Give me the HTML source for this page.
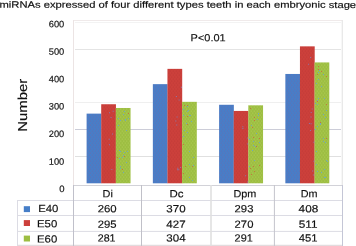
<!DOCTYPE html>
<html><head><meta charset="utf-8"><title>chart</title><style>html,body{margin:0;padding:0;background:#fff}body{width:356px;height:246px;overflow:hidden}</style></head><body>
<svg width="356" height="246" viewBox="0 0 356 246" style="display:block;will-change:transform;filter:blur(0.35px)">
<defs>
<pattern id="pb" width="3" height="4" patternUnits="userSpaceOnUse"><rect width="3" height="4" fill="#467ec8"/><circle cx="0.75" cy="1" r="0.55" fill="#a0508c" opacity="0.45"/><circle cx="2.25" cy="3" r="0.55" fill="#a0508c" opacity="0.45"/></pattern>
<pattern id="pr" width="3" height="4" patternUnits="userSpaceOnUse"><rect width="3" height="4" fill="#cc403b"/><circle cx="0.75" cy="1" r="0.55" fill="#a8302c" opacity="0.5"/><circle cx="2.25" cy="3" r="0.55" fill="#a8302c" opacity="0.5"/></pattern>
<pattern id="pg" width="3" height="4" patternUnits="userSpaceOnUse"><rect width="3" height="4" fill="#9dbe42"/><circle cx="0.75" cy="1" r="0.55" fill="#c8dc70" opacity="0.55"/><circle cx="2.25" cy="3" r="0.55" fill="#c8dc70" opacity="0.55"/></pattern>
</defs>
<rect width="356" height="246" fill="#fff"/>
<line x1="75" x2="341" y1="22.5" y2="22.5" stroke="#f3f3f3" stroke-width="1"/>
<line x1="75" x2="341" y1="49.5" y2="49.5" stroke="#e4e4e4" stroke-width="1"/>
<line x1="75" x2="341" y1="102.5" y2="102.5" stroke="#efefef" stroke-width="1"/>
<line x1="75" x2="341" y1="129.5" y2="129.5" stroke="#cccdd8" stroke-width="1"/>
<line x1="75" x2="341" y1="156.5" y2="156.5" stroke="#e0e0e0" stroke-width="1"/>
<line x1="73" x2="343" y1="20.5" y2="20.5" stroke="#f0eaea" stroke-width="1"/>
<line x1="73.5" x2="73.5" y1="20" y2="185" stroke="#ece4e4" stroke-width="1"/>
<line x1="342.3" x2="342.3" y1="20" y2="185" stroke="#e8e8e8" stroke-width="1.3"/>
<rect x="86.60" y="113.62" width="14.75" height="69.68" fill="url(#pb)"/>
<rect x="101.20" y="104.24" width="14.75" height="79.06" fill="url(#pr)"/>
<rect x="115.80" y="107.99" width="14.75" height="75.31" fill="url(#pg)"/>
<rect x="152.85" y="84.14" width="14.75" height="99.16" fill="url(#pb)"/>
<rect x="167.45" y="68.86" width="14.75" height="114.44" fill="url(#pr)"/>
<rect x="182.05" y="101.83" width="14.75" height="81.47" fill="url(#pg)"/>
<rect x="219.10" y="104.78" width="14.75" height="78.52" fill="url(#pb)"/>
<rect x="233.70" y="110.94" width="14.75" height="72.36" fill="url(#pr)"/>
<rect x="248.30" y="105.31" width="14.75" height="77.99" fill="url(#pg)"/>
<rect x="285.35" y="73.96" width="14.75" height="109.34" fill="url(#pb)"/>
<rect x="299.95" y="46.35" width="14.75" height="136.95" fill="url(#pr)"/>
<rect x="314.55" y="62.43" width="14.75" height="120.87" fill="url(#pg)"/>
<path d="M110.6 116.9h1v1h-1zM112.7 110.8h1v1h-1zM112.0 133.4h1v1h-1zM108.9 144.3h1v1h-1zM108.7 138.7h1v1h-1zM109.0 112.2h1v1h-1zM111.3 169.0h1v1h-1zM177.3 167.8h1v1h-1zM175.3 120.4h1v1h-1zM178.3 169.2h1v1h-1zM180.1 167.0h1v1h-1zM176.6 116.6h1v1h-1zM177.1 169.3h1v1h-1zM181.0 86.8h1v1h-1zM175.9 95.9h1v1h-1zM176.3 124.4h1v1h-1zM178.6 99.4h1v1h-1zM247.2 143.4h1v1h-1zM247.1 181.5h1v1h-1zM247.2 137.6h1v1h-1zM242.4 127.9h1v1h-1zM242.3 126.3h1v1h-1zM245.1 175.3h1v1h-1zM310.6 123.2h1v1h-1zM312.2 170.5h1v1h-1zM310.1 130.0h1v1h-1zM310.5 116.5h1v1h-1zM311.8 108.4h1v1h-1zM310.7 111.9h1v1h-1zM313.4 141.7h1v1h-1zM312.9 174.5h1v1h-1zM308.9 122.9h1v1h-1zM313.4 160.7h1v1h-1zM308.1 63.8h1v1h-1zM310.1 57.1h1v1h-1z" fill="#7a86c8" opacity="0.8"/>
<path d="M118 125h1v1h-1zM127 151h1v1h-1zM120 120h1v1h-1zM120 168h1v1h-1zM123 155h1v1h-1zM123 114h1v1h-1zM119 158h1v1h-1zM120 151h1v1h-1zM120 166h1v1h-1zM119 150h1v1h-1zM126 162h1v1h-1zM128 118h1v1h-1zM125 120h1v1h-1zM123 172h1v1h-1zM124 152h1v1h-1zM122 157h1v1h-1zM126 130h1v1h-1zM124 111h1v1h-1zM118 118h1v1h-1zM125 119h1v1h-1zM183 136h1v1h-1zM189 177h1v1h-1zM189 151h1v1h-1zM193 165h1v1h-1zM187 111h1v1h-1zM183 109h1v1h-1zM184 130h1v1h-1zM183 115h1v1h-1zM190 115h1v1h-1zM187 132h1v1h-1zM192 180h1v1h-1zM188 110h1v1h-1zM189 115h1v1h-1zM193 157h1v1h-1zM189 164h1v1h-1zM191 121h1v1h-1zM187 106h1v1h-1zM186 123h1v1h-1zM259 142h1v1h-1zM258 113h1v1h-1zM257 119h1v1h-1zM256 133h1v1h-1zM251 125h1v1h-1zM252 150h1v1h-1zM253 141h1v1h-1zM255 146h1v1h-1zM249 139h1v1h-1zM249 166h1v1h-1zM254 160h1v1h-1zM253 145h1v1h-1zM258 115h1v1h-1zM318 72h1v1h-1zM324 169h1v1h-1zM323 141h1v1h-1zM325 177h1v1h-1zM326 110h1v1h-1zM327 161h1v1h-1zM320 124h1v1h-1zM315 129h1v1h-1zM315 103h1v1h-1zM324 177h1v1h-1zM318 79h1v1h-1zM326 160h1v1h-1zM317 171h1v1h-1zM323 74h1v1h-1zM323 114h1v1h-1zM316 164h1v1h-1zM325 117h1v1h-1zM321 172h1v1h-1zM317 126h1v1h-1zM316 83h1v1h-1zM317 100h1v1h-1zM324 98h1v1h-1zM317 104h1v1h-1zM321 86h1v1h-1zM320 123h1v1h-1zM323 138h1v1h-1zM319 70h1v1h-1zM316 151h1v1h-1zM325 142h1v1h-1zM318 98h1v1h-1z" fill="#62a0e0" opacity="0.8"/>
<path d="M128 113h1v1h-1zM117 157h1v1h-1zM122 169h1v1h-1zM124 156h1v1h-1zM183 173h1v1h-1zM187 105h1v1h-1zM187 124h1v1h-1zM184 105h1v1h-1zM183 144h1v1h-1zM187 116h1v1h-1zM185 166h1v1h-1zM192 166h1v1h-1zM259 165h1v1h-1zM254 120h1v1h-1zM253 166h1v1h-1zM253 137h1v1h-1zM251 174h1v1h-1zM250 168h1v1h-1zM250 108h1v1h-1zM256 146h1v1h-1zM254 171h1v1h-1zM254 117h1v1h-1zM259 138h1v1h-1zM252 127h1v1h-1zM317 101h1v1h-1zM321 71h1v1h-1zM318 69h1v1h-1zM326 138h1v1h-1zM318 66h1v1h-1zM326 76h1v1h-1zM320 122h1v1h-1zM326 104h1v1h-1zM317 74h1v1h-1z" fill="#d0603c" opacity="0.8"/>
<line x1="73" x2="343" y1="185.5" y2="185.5" stroke="#d2d2d8" stroke-width="1"/>
<line x1="17" x2="343" y1="200.5" y2="200.5" stroke="#dcdce4" stroke-width="1"/>
<line x1="17" x2="343" y1="215.5" y2="215.5" stroke="#dcdce4" stroke-width="1"/>
<line x1="17" x2="343" y1="231.4" y2="231.4" stroke="#dcdce4" stroke-width="1"/>
<line x1="17" x2="343" y1="245.5" y2="245.5" stroke="#e2dcde" stroke-width="1.4"/>
<line x1="17.5" x2="17.5" y1="200" y2="246" stroke="#dcdce4" stroke-width="1"/>
<line x1="73.5" x2="73.5" y1="185" y2="246" stroke="#c0c0ca" stroke-width="1"/>
<line x1="141.5" x2="141.5" y1="185" y2="246" stroke="#c0c0c8" stroke-width="1"/>
<line x1="211.0" x2="211.0" y1="185" y2="246" stroke="#e0e0e0" stroke-width="1.6"/>
<line x1="274.4" x2="274.4" y1="185" y2="246" stroke="#c4c4cc" stroke-width="1"/>
<line x1="342.5" x2="342.5" y1="185" y2="246" stroke="#c4c6d6" stroke-width="1"/>
<rect x="23.8" y="206.2" width="6.2" height="5.9" fill="#467ec8"/>
<rect x="23.8" y="220.1" width="6.2" height="5.9" fill="#cc403b"/>
<rect x="23.8" y="235.6" width="6.2" height="5.9" fill="#9dbe42"/>
<g transform="translate(-0.50,7.65) rotate(0.04)"><text font-size="9.3" font-family="Liberation Sans, sans-serif" fill="#101010" stroke="#101010" stroke-width="0.17" textLength="356.60" lengthAdjust="spacingAndGlyphs" text-rendering="geometricPrecision">miRNAs expressed of four different types teeth in each embryonic stage</text></g>
<g transform="translate(48.80,27.35) rotate(0.04)"><text font-size="9.2" font-family="Liberation Sans, sans-serif" fill="#101010" stroke="#101010" stroke-width="0.15" textLength="15.50" lengthAdjust="spacingAndGlyphs" text-rendering="geometricPrecision">600</text></g>
<g transform="translate(48.80,54.75) rotate(0.04)"><text font-size="9.2" font-family="Liberation Sans, sans-serif" fill="#101010" stroke="#101010" stroke-width="0.15" textLength="15.50" lengthAdjust="spacingAndGlyphs" text-rendering="geometricPrecision">500</text></g>
<g transform="translate(48.80,82.15) rotate(0.04)"><text font-size="9.2" font-family="Liberation Sans, sans-serif" fill="#101010" stroke="#101010" stroke-width="0.15" textLength="15.50" lengthAdjust="spacingAndGlyphs" text-rendering="geometricPrecision">400</text></g>
<g transform="translate(48.80,109.55) rotate(0.04)"><text font-size="9.2" font-family="Liberation Sans, sans-serif" fill="#101010" stroke="#101010" stroke-width="0.15" textLength="15.50" lengthAdjust="spacingAndGlyphs" text-rendering="geometricPrecision">300</text></g>
<g transform="translate(48.80,136.95) rotate(0.04)"><text font-size="9.2" font-family="Liberation Sans, sans-serif" fill="#101010" stroke="#101010" stroke-width="0.15" textLength="15.50" lengthAdjust="spacingAndGlyphs" text-rendering="geometricPrecision">200</text></g>
<g transform="translate(48.80,164.65) rotate(0.04)"><text font-size="9.2" font-family="Liberation Sans, sans-serif" fill="#101010" stroke="#101010" stroke-width="0.15" textLength="15.50" lengthAdjust="spacingAndGlyphs" text-rendering="geometricPrecision">100</text></g>
<g transform="translate(59.20,192.00) rotate(0.04)"><text font-size="9.2" font-family="Liberation Sans, sans-serif" fill="#101010" stroke="#101010" stroke-width="0.15" textLength="5.30" lengthAdjust="spacingAndGlyphs" text-rendering="geometricPrecision">0</text></g>
<text transform="translate(27.0,131.8) rotate(-90.04)" font-size="13" font-family="Liberation Sans, sans-serif" fill="#101010" stroke="#101010" stroke-width="0.16" textLength="53" lengthAdjust="spacingAndGlyphs" text-rendering="geometricPrecision">Number</text>
<g transform="translate(190.60,41.35) rotate(0.04)"><text font-size="10.3" font-family="Liberation Sans, sans-serif" fill="#101010" stroke="#101010" stroke-width="0.16" textLength="35.00" lengthAdjust="spacingAndGlyphs" text-rendering="geometricPrecision">P&lt;0.01</text></g>
<g transform="translate(102.60,197.20) rotate(0.04)"><text font-size="10.4" font-family="Liberation Sans, sans-serif" fill="#101010" stroke="#101010" stroke-width="0.16" textLength="10.30" lengthAdjust="spacingAndGlyphs" text-rendering="geometricPrecision">Di</text></g>
<g transform="translate(169.40,197.20) rotate(0.04)"><text font-size="10.4" font-family="Liberation Sans, sans-serif" fill="#101010" stroke="#101010" stroke-width="0.16" textLength="14.00" lengthAdjust="spacingAndGlyphs" text-rendering="geometricPrecision">Dc</text></g>
<g transform="translate(233.40,197.20) rotate(0.04)"><text font-size="10.4" font-family="Liberation Sans, sans-serif" fill="#101010" stroke="#101010" stroke-width="0.16" textLength="22.90" lengthAdjust="spacingAndGlyphs" text-rendering="geometricPrecision">Dpm</text></g>
<g transform="translate(300.70,197.20) rotate(0.04)"><text font-size="10.4" font-family="Liberation Sans, sans-serif" fill="#101010" stroke="#101010" stroke-width="0.16" textLength="16.80" lengthAdjust="spacingAndGlyphs" text-rendering="geometricPrecision">Dm</text></g>
<g transform="translate(97.70,212.25) rotate(0.04)"><text font-size="10.4" font-family="Liberation Sans, sans-serif" fill="#101010" stroke="#101010" stroke-width="0.16" textLength="19.00" lengthAdjust="spacingAndGlyphs" text-rendering="geometricPrecision">260</text></g>
<g transform="translate(166.30,212.25) rotate(0.04)"><text font-size="10.4" font-family="Liberation Sans, sans-serif" fill="#101010" stroke="#101010" stroke-width="0.16" textLength="19.30" lengthAdjust="spacingAndGlyphs" text-rendering="geometricPrecision">370</text></g>
<g transform="translate(234.60,212.25) rotate(0.04)"><text font-size="10.4" font-family="Liberation Sans, sans-serif" fill="#101010" stroke="#101010" stroke-width="0.16" textLength="18.80" lengthAdjust="spacingAndGlyphs" text-rendering="geometricPrecision">293</text></g>
<g transform="translate(298.60,212.25) rotate(0.04)"><text font-size="10.4" font-family="Liberation Sans, sans-serif" fill="#101010" stroke="#101010" stroke-width="0.16" textLength="19.60" lengthAdjust="spacingAndGlyphs" text-rendering="geometricPrecision">408</text></g>
<g transform="translate(97.70,227.75) rotate(0.04)"><text font-size="10.4" font-family="Liberation Sans, sans-serif" fill="#101010" stroke="#101010" stroke-width="0.16" textLength="18.80" lengthAdjust="spacingAndGlyphs" text-rendering="geometricPrecision">295</text></g>
<g transform="translate(166.30,227.75) rotate(0.04)"><text font-size="10.4" font-family="Liberation Sans, sans-serif" fill="#101010" stroke="#101010" stroke-width="0.16" textLength="19.30" lengthAdjust="spacingAndGlyphs" text-rendering="geometricPrecision">427</text></g>
<g transform="translate(234.60,227.75) rotate(0.04)"><text font-size="10.4" font-family="Liberation Sans, sans-serif" fill="#101010" stroke="#101010" stroke-width="0.16" textLength="18.80" lengthAdjust="spacingAndGlyphs" text-rendering="geometricPrecision">270</text></g>
<g transform="translate(298.70,227.75) rotate(0.04)"><text font-size="10.4" font-family="Liberation Sans, sans-serif" fill="#101010" stroke="#101010" stroke-width="0.16" textLength="18.80" lengthAdjust="spacingAndGlyphs" text-rendering="geometricPrecision">511</text></g>
<g transform="translate(97.70,241.60) rotate(0.04)"><text font-size="10.4" font-family="Liberation Sans, sans-serif" fill="#101010" stroke="#101010" stroke-width="0.16" textLength="17.80" lengthAdjust="spacingAndGlyphs" text-rendering="geometricPrecision">281</text></g>
<g transform="translate(166.30,241.60) rotate(0.04)"><text font-size="10.4" font-family="Liberation Sans, sans-serif" fill="#101010" stroke="#101010" stroke-width="0.16" textLength="19.30" lengthAdjust="spacingAndGlyphs" text-rendering="geometricPrecision">304</text></g>
<g transform="translate(234.60,241.60) rotate(0.04)"><text font-size="10.4" font-family="Liberation Sans, sans-serif" fill="#101010" stroke="#101010" stroke-width="0.16" textLength="18.10" lengthAdjust="spacingAndGlyphs" text-rendering="geometricPrecision">291</text></g>
<g transform="translate(298.70,241.60) rotate(0.04)"><text font-size="10.4" font-family="Liberation Sans, sans-serif" fill="#101010" stroke="#101010" stroke-width="0.16" textLength="18.80" lengthAdjust="spacingAndGlyphs" text-rendering="geometricPrecision">451</text></g>
<g transform="translate(38.20,211.90) rotate(0.04)"><text font-size="10.3" font-family="Liberation Sans, sans-serif" fill="#101010" stroke="#101010" stroke-width="0.16" textLength="20.20" lengthAdjust="spacingAndGlyphs" text-rendering="geometricPrecision">E40</text></g>
<g transform="translate(37.00,227.35) rotate(0.04)"><text font-size="10.3" font-family="Liberation Sans, sans-serif" fill="#101010" stroke="#101010" stroke-width="0.16" textLength="20.20" lengthAdjust="spacingAndGlyphs" text-rendering="geometricPrecision">E50</text></g>
<g transform="translate(37.00,242.50) rotate(0.04)"><text font-size="10.3" font-family="Liberation Sans, sans-serif" fill="#101010" stroke="#101010" stroke-width="0.16" textLength="20.20" lengthAdjust="spacingAndGlyphs" text-rendering="geometricPrecision">E60</text></g>
</svg>
</body></html>
